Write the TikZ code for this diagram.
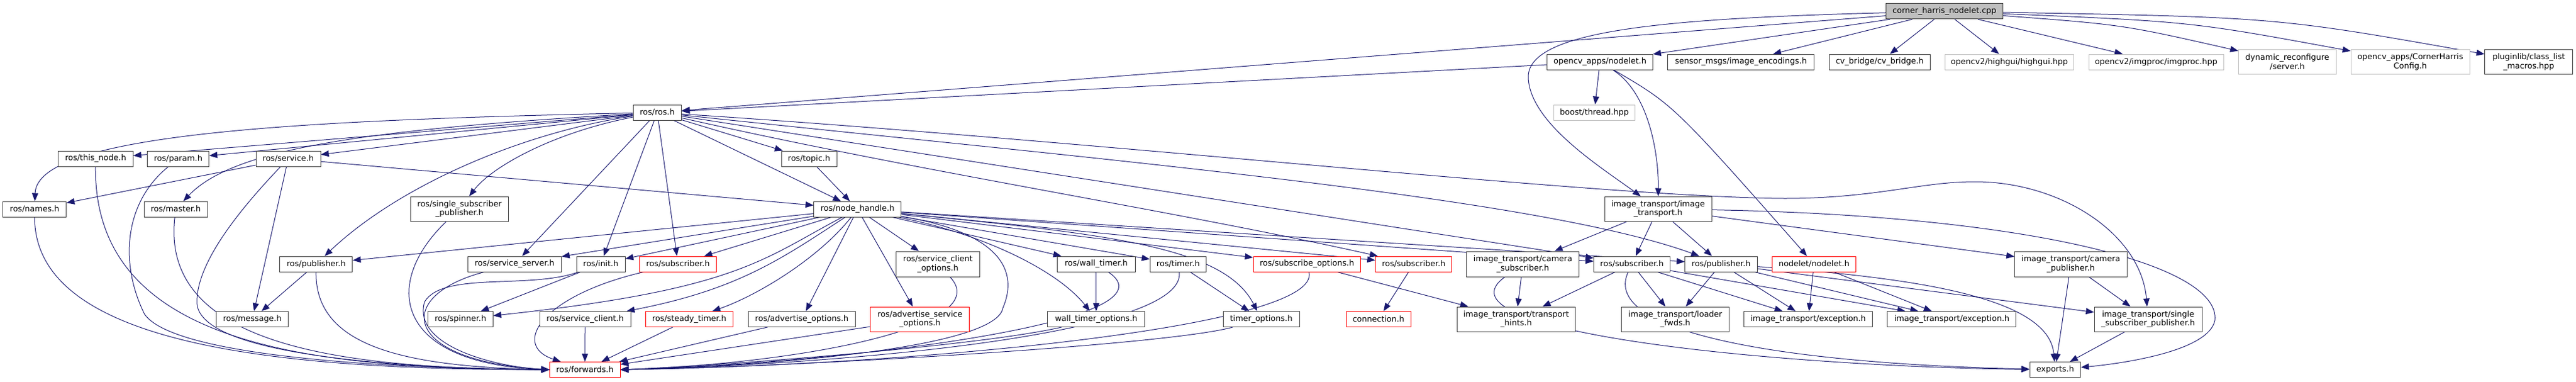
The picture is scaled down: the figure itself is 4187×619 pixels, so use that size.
\documentclass[tikz,border=0pt]{standalone}
\usepackage{fontspec}
\setmainfont{DejaVu Sans}
\usetikzlibrary{arrows.meta,backgrounds}
\definecolor{edgec}{RGB}{25,25,112}
\definecolor{bordc}{RGB}{64,64,64}
\definecolor{greyc}{RGB}{191,191,191}
\begin{document}
\begin{tikzpicture}[x=1pt,y=-1pt,
 nd/.style={draw=bordc, line width=1pt, fill=white, inner sep=0pt, align=center, font=\fontsize{13}{14.5}\selectfont},
 rd/.style={nd, draw=red},
 gr/.style={nd, draw=greyc},
 e/.style={draw=edgec, line width=1pt, -{Triangle[length=13pt,width=10pt]}}]
\useasboundingbox (0,0) rectangle (4187,619);
% top
\node[nd, fill=greyc, minimum width=190pt, minimum height=25pt] (root) at (3160.5,18.3) {corner\_harris\_nodelet.cpp};
\node[nd, minimum width=238pt, minimum height=25pt] (enc) at (2829.7,100.5) {sensor\_msgs/image\_encodings.h};
\node[nd, minimum width=164pt, minimum height=25pt] (cvb) at (3055.2,100.5) {cv\_bridge/cv\_bridge.h};
\node[gr, minimum width=209pt, minimum height=25pt] (hig) at (3266,100.5) {opencv2/highgui/highgui.hpp};
\node[gr, minimum width=219pt, minimum height=25pt] (imp) at (3504.5,100.5) {opencv2/imgproc/imgproc.hpp};
\node[gr, minimum width=158.6pt, minimum height=40pt] (dyn) at (3717.8,100.5) {dynamic\_reconfigure\\/server.h};
\node[gr, minimum width=193pt, minimum height=40pt] (chc) at (3917.6,100.5) {opencv\_apps/CornerHarris\\Config.h};
\node[nd, minimum width=143pt, minimum height=40pt] (plg) at (4110.2,100.5) {pluginlib/class\_list\\\_macros.hpp};
\node[nd, minimum width=171.5pt, minimum height=25pt] (ocn) at (2600.5,100.5) {opencv\_apps/nodelet.h};
\node[gr, minimum width=131.7pt, minimum height=25pt] (bth) at (2591.3,182.5) {boost/thread.hpp};
\node[nd, minimum width=78.6pt, minimum height=25pt] (ros) at (1068.3,182.5) {ros/ros.h};
% row 3
\node[nd, minimum width=121.5pt, minimum height=25pt] (thn) at (155.4,257.5) {ros/this\_node.h};
\node[nd, minimum width=100pt, minimum height=25pt] (prm) at (289.7,257.5) {ros/param.h};
\node[nd, minimum width=105pt, minimum height=25pt] (svc) at (468.5,257.5) {ros/service.h};
\node[nd, minimum width=90pt, minimum height=25pt] (top) at (1315,257.5) {ros/topic.h};
\node[nd, minimum width=159pt, minimum height=40pt] (ssp) at (746.9,339) {ros/single\_subscriber\\\_publisher.h};
\node[nd, minimum width=174pt, minimum height=40pt] (itr) at (2695,339) {image\_transport/image\\\_transport.h};
% row 4
\node[nd, minimum width=102.7pt, minimum height=25pt] (nam) at (56.3,339.5) {ros/names.h};
\node[nd, minimum width=102.6pt, minimum height=25pt] (mas) at (285.7,339.5) {ros/master.h};
\node[nd, minimum width=142pt, minimum height=25pt] (nh) at (1393.8,339.5) {ros/node\_handle.h};
% row 5
\node[nd, minimum width=118pt, minimum height=25pt] (pubL) at (513.9,428.5) {ros/publisher.h};
\node[nd, minimum width=152pt, minimum height=25pt] (ssv) at (836.4,428.5) {ros/service\_server.h};
\node[nd, minimum width=79pt, minimum height=25pt] (ini) at (976.5,428.5) {ros/init.h};
\node[rd, minimum width=124.6pt, minimum height=25pt] (subR) at (1102,428.5) {ros/subscriber.h};
\node[nd, minimum width=136pt, minimum height=41pt] (sco) at (1524.4,428.5) {ros/service\_client\\\_options.h};
\node[nd, minimum width=126.8pt, minimum height=25pt] (wt) at (1781.7,428.5) {ros/wall\_timer.h};
\node[nd, minimum width=91.5pt, minimum height=25pt] (tim) at (1915,428.5) {ros/timer.h};
\node[rd, minimum width=174.6pt, minimum height=25pt] (sop) at (2124.3,428.5) {ros/subscribe\_options.h};
\node[rd, minimum width=124pt, minimum height=25pt] (subR2) at (2297.8,428.5) {ros/subscriber.h};
\node[nd, minimum width=182.6pt, minimum height=41pt] (csub) at (2475.2,428.5) {image\_transport/camera\\\_subscriber.h};
\node[nd, minimum width=123.7pt, minimum height=25pt] (subB) at (2652.5,428.5) {ros/subscriber.h};
\node[nd, minimum width=117.5pt, minimum height=25pt] (pubB) at (2797.5,428.5) {ros/publisher.h};
\node[rd, minimum width=136pt, minimum height=25pt] (ndl) at (2948.5,428.5) {nodelet/nodelet.h};
\node[nd, minimum width=182.5pt, minimum height=41pt] (cpub) at (3365.9,428.5) {image\_transport/camera\\\_publisher.h};
% row 6
\node[nd, minimum width=117.5pt, minimum height=25pt] (msg) at (410,518) {ros/message.h};
\node[nd, minimum width=105.8pt, minimum height=25pt] (spn) at (748.4,518) {ros/spinner.h};
\node[nd, minimum width=147.8pt, minimum height=25pt] (scl) at (951.1,518) {ros/service\_client.h};
\node[rd, minimum width=142.4pt, minimum height=25pt] (stt) at (1120.3,518) {ros/steady\_timer.h};
\node[nd, minimum width=174.6pt, minimum height=25pt] (ado) at (1303.3,518) {ros/advertise\_options.h};
\node[rd, minimum width=161.2pt, minimum height=40pt] (aso) at (1495.3,518) {ros/advertise\_service\\\_options.h};
\node[nd, minimum width=158pt, minimum height=25pt] (wto) at (1781.7,518) {wall\_timer\_options.h};
\node[nd, minimum width=124pt, minimum height=25pt] (tio) at (2050,518) {timer\_options.h};
\node[rd, minimum width=105pt, minimum height=25pt] (con) at (2240.5,518) {connection.h};
\node[nd, minimum width=192pt, minimum height=40pt] (thi) at (2464.3,518) {image\_transport/transport\\\_hints.h};
\node[nd, minimum width=174.6pt, minimum height=40pt] (ldf) at (2723,518) {image\_transport/loader\\\_fwds.h};
\node[nd, minimum width=209.4pt, minimum height=25pt] (ex1) at (2939,518) {image\_transport/exception.h};
\node[nd, minimum width=209pt, minimum height=25pt] (ex2) at (3172.4,518) {image\_transport/exception.h};
\node[nd, minimum width=175pt, minimum height=40pt] (itssp) at (3491.5,518) {image\_transport/single\\\_subscriber\_publisher.h};
% bottom
\node[rd, minimum width=114.7pt, minimum height=25pt] (fwd) at (950.7,600) {ros/forwards.h};
\node[nd, minimum width=82.7pt, minimum height=25pt] (exp) at (3340.4,600) {exports.h};

\begin{scope}[on background layer]
% root
\draw[e] (root) -- (ros);
\draw[e] (root) -- (ocn);
\draw[e] (root) -- (enc);
\draw[e] (root) -- (cvb);
\draw[e] (root) -- (hig);
\draw[e] (root) -- (imp);
\draw[e] (root) .. controls (3450,40) .. (dyn);
\draw[e] (root) .. controls (3560,35) .. (chc);
\draw[e] (root) .. controls (3700,28) .. (plg);
\draw[e] (root) .. controls (2700,30) and (2480,50) .. (2484,127) .. controls (2488,200) and (2600,270) .. (itr);
% opencv_apps/nodelet.h
\draw[e] (ocn) -- (ros);
\draw[e] (ocn) -- (bth);
\draw[e] (ocn) .. controls (2680,150) and (2696,250) .. (itr);
\draw[e] (ocn) .. controls (2720,170) .. (ndl);
% ros.h
\draw[e] (ros) .. controls (500,195) and (60,215) .. (nam);
\draw[e] (ros) -- (thn);
\draw[e] (ros) -- (prm);
\draw[e] (ros) -- (svc);
\draw[e] (ros) .. controls (600,210) and (380,240) .. (mas);
\draw[e] (ros) -- (top);
\draw[e] (ros) -- (nh);
\draw[e] (ros) .. controls (900,215) and (800,270) .. (ssp);
\draw[e] (ros) .. controls (850,215) and (650,300) .. (pubL);
\draw[e] (ros) -- (ssv);
\draw[e] (ros) -- (ini);
\draw[e] (ros) -- (subR);
\draw[e] (ros) .. controls (1800,230) and (2600,320) .. (2900,322) .. controls (3050,322) and (3120,295) .. (3210,295) .. controls (3350,295) and (3480,380) .. (itssp);
\draw[e] (ros) .. controls (1800,260) and (2500,320) .. (pubB);
\draw[e] (ros) -- (subB);
\draw[e] (ros) .. controls (1500,280) and (1900,340) .. (subR2);
% service.h, topic.h
\draw[e] (svc) -- (nam);
\draw[e] (svc) -- (msg);
\draw[e] (svc) -- (nh);
\draw[e] (top) -- (nh);
% into forwards from the left
\draw[e] (nam) .. controls (56,560) and (450,600) .. (fwd.west);
\draw[e] (thn) .. controls (152,560) and (500,598) .. (fwd.west);
\draw[e] (prm) .. controls (200,330) and (195,430) .. (235,510) .. controls (280,575) and (600,598) .. (fwd.west);
\draw[e] (mas) .. controls (260,560) and (550,598) .. (fwd.west);
\draw[e] (svc) .. controls (380,350) and (320,430) .. (320,490) .. controls (320,570) and (600,597) .. (fwd.west);
\draw[e] (pubL) .. controls (512,560) and (650,595) .. (fwd.west);
\draw[e] (ssp) .. controls (620,460) and (640,590) .. (fwd.west);
\draw[e] (ssv) .. controls (640,480) and (650,585) .. (fwd.west);
\draw[e] (ini) .. controls (860,470) and (720,440) .. (690,490) .. controls (670,560) and (800,595) .. (fwd.west);
\draw[e] (subR) .. controls (880,480) and (830,560) .. (fwd);
\draw[e] (pubL) -- (msg);
\draw[e] (ini) -- (spn);
% into forwards from above / right
\draw[e] (scl) -- (fwd);
\draw[e] (stt) -- (fwd);
\draw[e] (ado) -- (fwd);
\draw[e] (aso) -- (fwd);
\draw[e] (sco) .. controls (1620,530) and (1300,590) .. (fwd.east);
\draw[e] (nh) .. controls (1610,375) and (1660,430) .. (1630,500) .. controls (1620,560) and (1300,592) .. (fwd.east);
\draw[e] (wto) .. controls (1600,560) and (1200,592) .. (fwd.east);
\draw[e] (wt) .. controls (1920,520) and (1400,588) .. (fwd.east);
\draw[e] (tim) .. controls (1930,540) and (1400,590) .. (fwd.east);
\draw[e] (tio) .. controls (1900,560) and (1300,595) .. (fwd.east);
\draw[e] (sop) .. controls (2150,530) and (1500,592) .. (fwd.east);
% node_handle.h
\draw[e] (nh) -- (pubL);
\draw[e] (nh) -- (ssv);
\draw[e] (nh) -- (ini);
\draw[e] (nh) -- (subR);
\draw[e] (nh) .. controls (1240,420) and (1200,470) .. (spn);
\draw[e] (nh) .. controls (1270,420) and (1200,470) .. (scl);
\draw[e] (nh) .. controls (1330,420) and (1230,480) .. (stt);
\draw[e] (nh) -- (ado);
\draw[e] (nh) -- (aso);
\draw[e] (nh) -- (sco);
\draw[e] (nh) -- (wt);
\draw[e] (nh) .. controls (1600,380) and (1720,440) .. (wto);
\draw[e] (nh) -- (tim);
\draw[e] (nh) .. controls (1800,380) and (1990,400) .. (tio);
\draw[e] (nh) -- (sop);
\draw[e] (nh) -- (subR2);
\draw[e] (nh) -- (subB);
\draw[e] (nh) -- (pubB);
\draw[e] (wt) -- (wto);
\draw[e] (tim) -- (tio);
\draw[e] (sop) -- (thi);
\draw[e] (subR2) -- (con);
% image_transport.h
\draw[e] (itr) -- (csub);
\draw[e] (itr) -- (subB);
\draw[e] (itr) -- (pubB);
\draw[e] (itr) -- (cpub);
\draw[e] (itr) .. controls (3300,350) and (3610,430) .. (3600,520) .. controls (3590,570) and (3450,590) .. (exp);
\draw[e] (csub) -- (thi);
\draw[e] (csub) .. controls (2320,540) and (2900,595) .. (exp);
\draw[e] (subB) -- (thi);
\draw[e] (subB) -- (ldf);
\draw[e] (subB) -- (ex1);
\draw[e] (subB) -- (ex2);
\draw[e] (subB) .. controls (2600,540) and (2900,590) .. (exp);
\draw[e] (pubB) -- (ldf);
\draw[e] (pubB) -- (ex1);
\draw[e] (pubB) -- (ex2);
\draw[e] (pubB) -- (itssp);
\draw[e] (pubB) .. controls (3100,450) and (3330,480) .. (exp);
\draw[e] (ndl) -- (ex1);
\draw[e] (ndl) -- (ex2);
\draw[e] (cpub) -- (exp);
\draw[e] (cpub) -- (itssp);
\draw[e] (itssp) -- (exp);
\end{scope}
\end{tikzpicture}
\end{document}
